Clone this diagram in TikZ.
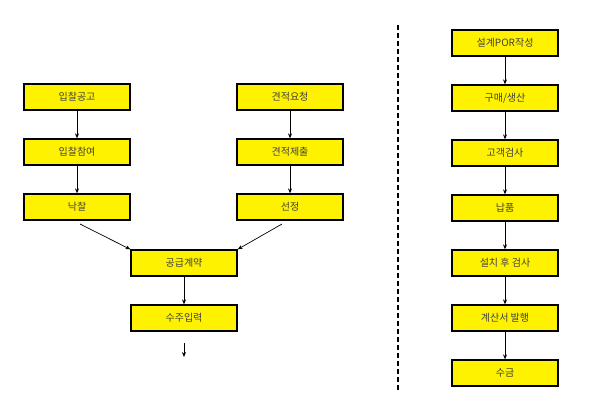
\documentclass[tikz,border=0pt]{standalone}
\usepackage{fontspec}
\setmainfont{Noto Sans CJK KR}
\usetikzlibrary{arrows.meta}
\begin{document}
\begin{tikzpicture}[x=1pt,y=-1pt,
  bx/.style={draw=black,line width=1.3pt,fill=yellow,minimum width=106pt,minimum height=26pt,inner sep=0pt,font=\fontsize{10}{12}\selectfont,text=black!75},
  ar/.style={-{Stealth[length=5pt,width=4pt]},line width=0.7pt}]
\useasboundingbox (0,0) rectangle (602,416);
\fill[white] (0,0) rectangle (602,416);
\node[bx] (a1) at (77,97) {입찰공고};
\node[bx] (a2) at (77,152) {입찰참여};
\node[bx] (a3) at (77,207) {낙찰};
\node[bx] (b1) at (290,97) {견적요청};
\node[bx] (b2) at (290,152) {견적제출};
\node[bx] (b3) at (290,207) {선정};
\node[bx] (c1) at (184,263) {공급계약};
\node[bx] (c2) at (184,318) {수주입력};
\coordinate (c3) at (184,357);
\draw[ar] (a1) -- (a2); \draw[ar] (a2) -- (a3);
\draw[ar] (b1) -- (b2); \draw[ar] (b2) -- (b3);
\draw[ar] (80,224) -- (c1.north west);
\draw[ar] (282,224) -- (c1.north east);
\draw[ar] (c1) -- (c2);
\draw[ar] (184,343) -- (c3);
\draw[line width=1.5pt,dash pattern=on 5pt off 3pt] (398,25) -- (398,390);
\foreach \t [count=\i] in {설계POR작성,구매/생산,고객검사,납품,설치 후 검사,계산서 발행,수금}
  \node[bx] (r\i) at (505,{43+55*(\i-1)}) {\t};
\foreach \i [evaluate=\i as \j using int(\i+1)] in {1,...,6}
  \draw[ar] (r\i) -- (r\j);
\end{tikzpicture}
\end{document}
